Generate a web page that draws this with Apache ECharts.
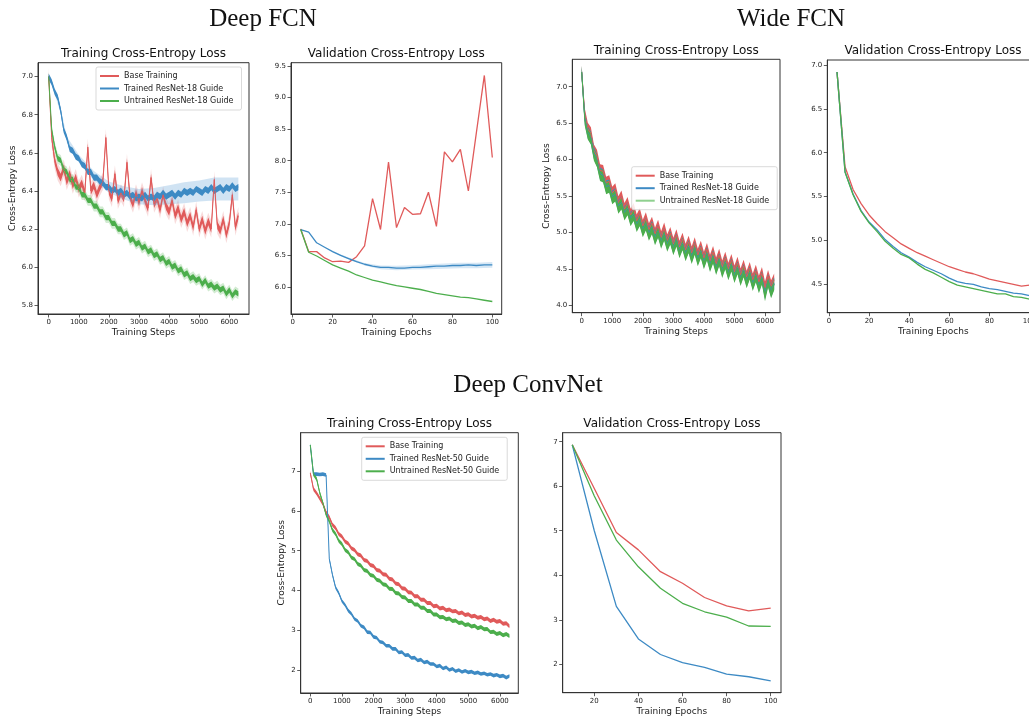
<!DOCTYPE html>
<html>
<head>
<meta charset="utf-8">
<script src="https://cdn.jsdelivr.net/npm/echarts@6/dist/echarts.min.js"></script>
<style>
html, body { margin: 0; padding: 0; background: #fff; overflow: hidden; }
#main { width: 1060px; height: 717px; }
</style>
</head>
<body>
<div id="main"></div>
<script>
// x values
var trainSteps = [0, 100, 200, 300, 400, 500, 600, 700, 800, 900, 1000, 1100, 1200, 1300, 1400, 1500,
    1600, 1700, 1800, 1900, 2000, 2100, 2200, 2300, 2400, 2500, 2600, 2700, 2800, 2900, 3000, 3100,
    3200, 3300, 3400, 3500, 3600, 3700, 3800, 3900, 4000, 4100, 4200, 4300, 4400, 4500, 4600, 4700,
    4800, 4900, 5000, 5100, 5200, 5300, 5400, 5500, 5600, 5700, 5800, 5900, 6000, 6100, 6200, 6300];
var valEpochs = [4, 8, 12, 16, 20, 24, 28, 32, 36, 40, 44, 48, 52, 56, 60, 64, 68, 72, 76, 80, 84, 88, 92, 96, 100];
var convEpochs = [10, 20, 30, 40, 50, 60, 70, 80, 90, 100];

// tick labels
var stepTicks = [0, 1000, 2000, 3000, 4000, 5000, 6000];
var epochTicks = [0, 20, 40, 60, 80, 100];
var convEpochTicks = [20, 40, 60, 80, 100];
var deepTrainTicks = [5.8, 6.0, 6.2, 6.4, 6.6, 6.8, 7.0];
var deepValTicks = [6.0, 6.5, 7.0, 7.5, 8.0, 8.5, 9.0, 9.5];
var wideTrainTicks = [4.0, 4.5, 5.0, 5.5, 6.0, 6.5, 7.0];
var wideValTicks = [4.5, 5.0, 5.5, 6.0, 6.5, 7.0];
var convTicks = [2, 3, 4, 5, 6, 7];

var legendNames18 = ['Base Training', 'Trained ResNet-18 Guide', 'Untrained ResNet-18 Guide'];
var legendNames50 = ['Base Training', 'Trained ResNet-50 Guide', 'Untrained ResNet-50 Guide'];

// Deep FCN - training
var deepTrainBase = [
    7.00, 6.68, 6.56, 6.50, 6.47, 6.52, 6.45, 6.49,
    6.43, 6.47, 6.41, 6.44, 6.39, 6.63, 6.40, 6.43,
    6.38, 6.42, 6.45, 6.68, 6.40, 6.36, 6.49, 6.35,
    6.39, 6.36, 6.55, 6.37, 6.33, 6.39, 6.34, 6.40,
    6.35, 6.31, 6.47, 6.33, 6.36, 6.30, 6.38, 6.32,
    6.29, 6.35, 6.27, 6.31, 6.25, 6.29, 6.23, 6.27,
    6.21, 6.30, 6.20, 6.25, 6.19, 6.24, 6.20, 6.46,
    6.22, 6.19, 6.25, 6.17, 6.23, 6.38, 6.21, 6.27];
var deepTrainTrained = [
    7.00, 6.97, 6.92, 6.89, 6.82, 6.72, 6.68, 6.62,
    6.61, 6.58, 6.57, 6.54, 6.53, 6.50, 6.50, 6.47,
    6.47, 6.45, 6.44, 6.42, 6.42, 6.40, 6.41, 6.39,
    6.40, 6.38, 6.39, 6.37, 6.38, 6.36, 6.37, 6.36,
    6.38, 6.36, 6.37, 6.36, 6.38, 6.37, 6.39, 6.37,
    6.38, 6.39, 6.37, 6.39, 6.38, 6.40, 6.39, 6.40,
    6.39, 6.41, 6.40, 6.39, 6.41, 6.40, 6.42, 6.40,
    6.41, 6.42, 6.40, 6.42, 6.41, 6.43, 6.41, 6.42];
var deepTrainUntrained = [
    7.00, 6.72, 6.63, 6.57, 6.56, 6.51, 6.50, 6.46,
    6.46, 6.42, 6.42, 6.38, 6.38, 6.35, 6.35, 6.32,
    6.32, 6.29, 6.29, 6.26, 6.26, 6.23, 6.23, 6.20,
    6.20, 6.17, 6.18, 6.14, 6.15, 6.12, 6.13, 6.10,
    6.11, 6.08, 6.09, 6.06, 6.07, 6.04, 6.05, 6.02,
    6.03, 6.00, 6.01, 5.98, 5.99, 5.96, 5.97, 5.94,
    5.95, 5.93, 5.94, 5.91, 5.93, 5.90, 5.91, 5.89,
    5.90, 5.88, 5.89, 5.86, 5.88, 5.85, 5.87, 5.86];
// shaded spread of the trained-guide run
var deepTrainBandSteps = [0, 200, 400, 600, 1000, 1500, 2000, 2500, 3000, 3500, 4000, 4500, 5000, 5500, 6000, 6300];
var deepTrainBandHi = [7.005, 6.93, 6.835, 6.685, 6.59, 6.505, 6.45, 6.425, 6.41, 6.415, 6.43, 6.445, 6.455, 6.47, 6.47, 6.47];
var deepTrainBandLo = [6.995, 6.91, 6.805, 6.655, 6.55, 6.455, 6.39, 6.355, 6.33, 6.325, 6.33, 6.335, 6.345, 6.35, 6.35, 6.35];

// Deep FCN - validation
var deepValBase = [6.92, 6.56, 6.56, 6.46, 6.40, 6.41, 6.39, 6.48, 6.65, 7.40, 6.91, 7.98, 6.94,
    7.26, 7.15, 7.16, 7.50, 6.96, 8.14, 7.98, 8.18, 7.52, 8.44, 9.35, 8.05];
var deepValTrained = [6.91, 6.87, 6.70, 6.63, 6.56, 6.50, 6.45, 6.40, 6.36, 6.33, 6.31, 6.31, 6.30,
    6.30, 6.31, 6.31, 6.32, 6.33, 6.33, 6.34, 6.34, 6.35, 6.34, 6.35, 6.35];
var deepValUntrained = [6.91, 6.55, 6.49, 6.42, 6.35, 6.30, 6.25, 6.19, 6.15, 6.11, 6.08, 6.05, 6.02,
    6.00, 5.98, 5.96, 5.93, 5.90, 5.88, 5.86, 5.84, 5.83, 5.81, 5.79, 5.77];
var deepValBandEpochs = [20, 28, 36, 44, 52, 60, 68, 76, 84, 92, 100];
var deepValBandHi = [6.57, 6.465, 6.38, 6.34, 6.335, 6.345, 6.36, 6.37, 6.385, 6.385, 6.395];
var deepValBandLo = [6.55, 6.435, 6.34, 6.28, 6.265, 6.275, 6.28, 6.29, 6.295, 6.295, 6.305];

// Wide FCN - training
var wideTrainBase = [
    7.20, 6.62, 6.42, 6.36, 6.12, 6.05, 5.85, 5.84,
    5.68, 5.70, 5.54, 5.59, 5.41, 5.49, 5.32, 5.40,
    5.24, 5.32, 5.16, 5.25, 5.09, 5.19, 5.04, 5.13,
    4.98, 5.09, 4.93, 5.05, 4.89, 4.99, 4.84, 4.96,
    4.80, 4.91, 4.76, 4.87, 4.72, 4.85, 4.69, 4.80,
    4.65, 4.77, 4.61, 4.73, 4.57, 4.69, 4.53, 4.65,
    4.50, 4.62, 4.46, 4.58, 4.42, 4.54, 4.39, 4.51,
    4.35, 4.47, 4.32, 4.44, 4.24, 4.40, 4.26, 4.35];
var wideTrainTrained = [
    7.20, 6.57, 6.37, 6.30, 6.09, 5.99, 5.81, 5.78,
    5.63, 5.64, 5.49, 5.52, 5.36, 5.41, 5.27, 5.33,
    5.19, 5.25, 5.11, 5.18, 5.04, 5.12, 4.99, 5.07,
    4.93, 5.02, 4.88, 4.98, 4.84, 4.93, 4.79, 4.90,
    4.75, 4.85, 4.71, 4.81, 4.67, 4.79, 4.64, 4.74,
    4.60, 4.71, 4.56, 4.67, 4.52, 4.63, 4.48, 4.59,
    4.45, 4.56, 4.41, 4.52, 4.37, 4.48, 4.34, 4.45,
    4.30, 4.41, 4.27, 4.38, 4.17, 4.34, 4.20, 4.30];
var wideTrainUntrained = [
    7.20, 6.55, 6.36, 6.29, 6.07, 5.98, 5.79, 5.77,
    5.61, 5.63, 5.47, 5.51, 5.34, 5.40, 5.25, 5.32,
    5.17, 5.24, 5.09, 5.17, 5.02, 5.11, 4.97, 5.06,
    4.91, 5.01, 4.86, 4.97, 4.82, 4.92, 4.77, 4.89,
    4.73, 4.84, 4.69, 4.80, 4.65, 4.78, 4.62, 4.73,
    4.58, 4.70, 4.54, 4.66, 4.50, 4.62, 4.46, 4.58,
    4.43, 4.55, 4.39, 4.51, 4.35, 4.47, 4.32, 4.44,
    4.28, 4.40, 4.25, 4.37, 4.14, 4.33, 4.18, 4.29];

// Wide FCN - validation
var wideValBase = [6.92, 5.84, 5.58, 5.42, 5.29, 5.19, 5.10, 5.03, 4.96, 4.91, 4.86, 4.82, 4.78,
    4.74, 4.70, 4.67, 4.64, 4.62, 4.59, 4.56, 4.54, 4.52, 4.50, 4.48, 4.49];
var wideValTrained = [6.92, 5.78, 5.53, 5.34, 5.21, 5.12, 5.01, 4.93, 4.86, 4.81, 4.75, 4.70, 4.66,
    4.62, 4.57, 4.53, 4.51, 4.50, 4.47, 4.45, 4.44, 4.42, 4.40, 4.39, 4.37];
var wideValUntrained = [6.92, 5.78, 5.52, 5.33, 5.20, 5.10, 4.99, 4.91, 4.84, 4.80, 4.73, 4.67, 4.63,
    4.58, 4.53, 4.49, 4.47, 4.45, 4.43, 4.41, 4.39, 4.39, 4.36, 4.35, 4.33];

// Deep ConvNet - training
var convTrainBase = [
    6.95, 6.55, 6.44, 6.31, 6.17, 5.96, 5.84, 5.65,
    5.57, 5.42, 5.36, 5.23, 5.18, 5.06, 5.02, 4.91,
    4.88, 4.77, 4.74, 4.64, 4.62, 4.52, 4.50, 4.41,
    4.40, 4.30, 4.28, 4.18, 4.16, 4.06, 4.05, 3.96,
    3.95, 3.86, 3.86, 3.77, 3.77, 3.69, 3.69, 3.61,
    3.62, 3.55, 3.57, 3.51, 3.53, 3.48, 3.49, 3.43,
    3.45, 3.39, 3.41, 3.35, 3.37, 3.32, 3.34, 3.28,
    3.30, 3.24, 3.27, 3.22, 3.24, 3.17, 3.18, 3.11];
var convTrainTrained = [
    7.65, 6.92, 6.92, 6.91, 6.92, 6.90, 4.80, 4.40,
    4.08, 3.94, 3.74, 3.64, 3.50, 3.42, 3.29, 3.24,
    3.12, 3.08, 2.96, 2.95, 2.84, 2.82, 2.72, 2.70,
    2.62, 2.62, 2.54, 2.54, 2.45, 2.46, 2.38, 2.39,
    2.31, 2.32, 2.25, 2.27, 2.20, 2.22, 2.16, 2.16,
    2.10, 2.12, 2.05, 2.08, 2.01, 2.04, 1.98, 2.01,
    1.96, 1.99, 1.95, 1.97, 1.93, 1.95, 1.91, 1.93,
    1.89, 1.91, 1.87, 1.89, 1.85, 1.87, 1.82, 1.86];
var convTrainUntrained = [
    7.65, 6.92, 6.80, 6.45, 6.19, 5.90, 5.74, 5.52,
    5.42, 5.25, 5.17, 5.02, 4.96, 4.83, 4.79, 4.67,
    4.63, 4.52, 4.49, 4.39, 4.37, 4.27, 4.25, 4.16,
    4.14, 4.05, 4.04, 3.94, 3.93, 3.84, 3.83, 3.74,
    3.74, 3.65, 3.65, 3.57, 3.57, 3.49, 3.49, 3.40,
    3.40, 3.33, 3.34, 3.28, 3.30, 3.24, 3.25, 3.19,
    3.20, 3.14, 3.16, 3.10, 3.12, 3.06, 3.09, 3.03,
    3.04, 2.96, 2.97, 2.91, 2.94, 2.88, 2.91, 2.86];

// Deep ConvNet - validation
var convValBase = [6.93, 5.95, 4.96, 4.57, 4.08, 3.82, 3.50, 3.31, 3.20, 3.26];
var convValTrained = [6.93, 5.00, 3.30, 2.57, 2.22, 2.04, 1.93, 1.78, 1.72, 1.63];
var convValUntrained = [6.93, 5.78, 4.79, 4.19, 3.71, 3.37, 3.18, 3.06, 2.86, 2.85];

var RED = '#e05a5a', BLUE = '#3d8ac4', GREEN = '#4cae4c';
var FONT = 'DejaVu Sans';

function pairs(xs, ys) {
    return xs.map(function(x, i) { return [x, ys[i]]; });
}

// [left, top, width, height]
var boxes = [
    [38, 62.7, 211, 251.3],
    [291, 62.7, 210.7, 251.3],
    [572.3, 59.3, 207.7, 253.4],
    [827.3, 60, 212, 252.7],
    [300.7, 432.7, 217.6, 260.6],
    [562.7, 432.7, 218.3, 260]
];

var grids = boxes.map(function(b) {
    return {
        left: b[0], top: b[1], width: b[2], height: b[3],
        show: true, borderColor: '#333', borderWidth: 1, backgroundColor: 'transparent'
    };
});

function axisCommon(ticks, digits) {
    return {
        axisLine: { show: true, onZero: false, lineStyle: { color: '#333', width: 1 } },
        axisTick: { show: true, inside: false, length: 3.5, customValues: ticks, lineStyle: { color: '#333', width: 0.8 } },
        axisLabel: {
            customValues: ticks, fontSize: 7, color: '#222', margin: 5, fontFamily: FONT,
            formatter: function(v) { return digits ? Number(v).toFixed(digits) : String(Math.round(v)); }
        },
        splitLine: { show: false }
    };
}

function xAx(i, min, max, ticks, name) {
    var a = axisCommon(ticks, 0);
    a.type = 'value'; a.gridIndex = i; a.min = min; a.max = max; a.position = 'bottom';
    a.name = name; a.nameLocation = 'middle'; a.nameGap = 14;
    a.nameTextStyle = { fontSize: 9, color: '#222', fontFamily: FONT };
    return a;
}

function yAx(i, min, max, ticks, digits, name, gap) {
    var a = axisCommon(ticks, digits);
    a.type = 'value'; a.gridIndex = i; a.min = min; a.max = max; a.position = 'left';
    if (name) {
        a.name = name; a.nameLocation = 'middle'; a.nameGap = gap; a.nameRotate = 90;
        a.nameTextStyle = { fontSize: 9, color: '#222', fontFamily: FONT };
    }
    return a;
}

function line(name, idx, xs, ys, color, width) {
    return {
        name: name, type: 'line', xAxisIndex: idx, yAxisIndex: idx,
        data: pairs(xs, ys), showSymbol: false, symbol: 'none',
        lineStyle: { color: color, width: width }, itemStyle: { color: color },
        animation: false
    };
}

function polygonSeries(idx, xs, hiFn, loFn, fill) {
    return {
        type: 'custom', xAxisIndex: idx, yAxisIndex: idx, silent: true, animation: false,
        data: [[xs[0], hiFn(0)]],
        renderItem: function(params, api) {
            var pts = [];
            for (var i = 0; i < xs.length; i++) pts.push(api.coord([xs[i], hiFn(i)]));
            for (var j = xs.length - 1; j >= 0; j--) pts.push(api.coord([xs[j], loFn(j)]));
            return { type: 'polygon', shape: { points: pts }, style: { fill: fill } };
        }
    };
}

// spread band given by its own upper and lower arrays
function band(idx, xs, hi, lo, fill) {
    return polygonSeries(idx, xs, function(i) { return hi[i]; }, function(i) { return lo[i]; }, fill);
}

// thickness of a noisy training trace, h in loss units
function noise(idx, xs, ys, h, fill) {
    return polygonSeries(idx, xs, function(i) { return ys[i] + h; }, function(i) { return ys[i] - h; }, fill);
}

function legendAt(left, top, names, greenColor) {
    return {
        left: left, top: top, orient: 'vertical', icon: 'rect', selectedMode: false,
        itemWidth: 19, itemHeight: 2, itemGap: 2.5, padding: [4, 8, 4, 4],
        borderColor: '#cfcfcf', borderWidth: 0.8, borderRadius: 2,
        backgroundColor: 'rgba(255,255,255,0.85)',
        textStyle: { fontSize: 8, color: '#222', fontFamily: FONT, lineHeight: 10 },
        data: [
            { name: names[0], itemStyle: { color: RED } },
            { name: names[1], itemStyle: { color: BLUE } },
            { name: names[2], itemStyle: { color: greenColor } }
        ]
    };
}

function label(text, x, y, size, family) {
    return {
        type: 'text', x: x, y: y, silent: true,
        style: {
            text: text, font: size + 'px "' + family + '"', fill: '#111',
            textAlign: 'center', textVerticalAlign: 'middle', align: 'center', verticalAlign: 'middle'
        }
    };
}

var myChart = echarts.init(document.getElementById('main'));

var option = {
    backgroundColor: '#fff',
    animation: false,
    grid: grids,
    xAxis: [
        xAx(0, -355, 6654, stepTicks, 'Training Steps'),
        xAx(1, -0.85, 104.7, epochTicks, 'Training Epochs'),
        xAx(2, -308, 6491, stepTicks, 'Training Steps'),
        xAx(3, -0.85, 104.9, epochTicks, 'Training Epochs'),
        xAx(4, -304, 6582, stepTicks, 'Training Steps'),
        xAx(5, 5.67, 104.67, convEpochTicks, 'Training Epochs')
    ],
    yAxis: [
        yAx(0, 5.754, 7.073, deepTrainTicks, 1, 'Cross-Entropy Loss', 20.5),
        yAx(1, 5.572, 9.552, deepValTicks, 1),
        yAx(2, 3.898, 7.376, wideTrainTicks, 1, 'Cross-Entropy Loss', 20.8),
        yAx(3, 4.176, 7.057, wideValTicks, 1),
        yAx(4, 1.434, 7.959, convTicks, 0, 'Cross-Entropy Loss', 14.5),
        yAx(5, 1.362, 7.202, convTicks, 0)
    ],
    legend: [
        legendAt(96, 67, legendNames18, GREEN),
        legendAt(631.7, 166.7, legendNames18, '#8fd08f'),
        legendAt(361.7, 437.3, legendNames50, GREEN)
    ],
    graphic: [
        label('Deep FCN', 263, 19, 25, 'Liberation Serif'),
        label('Wide FCN', 791, 19, 25, 'Liberation Serif'),
        label('Deep ConvNet', 528, 385, 25, 'Liberation Serif'),
        label('Training Cross-Entropy Loss', 143.5, 54, 12, FONT),
        label('Validation Cross-Entropy Loss', 396.3, 54, 12, FONT),
        label('Training Cross-Entropy Loss', 676.2, 51, 12, FONT),
        label('Validation Cross-Entropy Loss', 933, 51, 12, FONT),
        label('Training Cross-Entropy Loss', 409.5, 424, 12, FONT),
        label('Validation Cross-Entropy Loss', 671.9, 424, 12, FONT)
    ],
    series: [
        // Deep FCN training
        noise(0, trainSteps, deepTrainBase, 0.045, 'rgba(224,90,90,0.22)'),
        noise(0, trainSteps, deepTrainBase, 0.02, RED),
        line(legendNames18[0], 0, trainSteps, deepTrainBase, RED, 1),
        band(0, deepTrainBandSteps, deepTrainBandHi, deepTrainBandLo, 'rgba(120,175,222,0.35)'),
        noise(0, trainSteps, deepTrainTrained, 0.016, BLUE),
        line(legendNames18[1], 0, trainSteps, deepTrainTrained, BLUE, 1),
        noise(0, trainSteps, deepTrainUntrained, 0.028, 'rgba(76,174,76,0.25)'),
        noise(0, trainSteps, deepTrainUntrained, 0.014, GREEN),
        line(legendNames18[2], 0, trainSteps, deepTrainUntrained, GREEN, 1),

        // Deep FCN validation
        band(1, deepValBandEpochs, deepValBandHi, deepValBandLo, 'rgba(120,175,222,0.3)'),
        line(legendNames18[0], 1, valEpochs, deepValBase, RED, 1.3),
        line(legendNames18[1], 1, valEpochs, deepValTrained, BLUE, 1.3),
        line(legendNames18[2], 1, valEpochs, deepValUntrained, GREEN, 1.3),

        // Wide FCN training
        noise(2, trainSteps, wideTrainBase, 0.085, RED),
        line(legendNames18[0], 2, trainSteps, wideTrainBase, RED, 1),
        noise(2, trainSteps, wideTrainTrained, 0.085, BLUE),
        line(legendNames18[1], 2, trainSteps, wideTrainTrained, BLUE, 1),
        noise(2, trainSteps, wideTrainUntrained, 0.085, GREEN),
        line(legendNames18[2], 2, trainSteps, wideTrainUntrained, GREEN, 1),

        // Wide FCN validation
        line(legendNames18[0], 3, valEpochs, wideValBase, RED, 1.3),
        line(legendNames18[1], 3, valEpochs, wideValTrained, BLUE, 1.3),
        line(legendNames18[2], 3, valEpochs, wideValUntrained, GREEN, 1.3),

        // Deep ConvNet training
        noise(4, trainSteps, convTrainBase, 0.05, RED),
        line(legendNames50[0], 4, trainSteps, convTrainBase, RED, 1),
        noise(4, trainSteps, convTrainTrained, 0.045, BLUE),
        line(legendNames50[1], 4, trainSteps, convTrainTrained, BLUE, 1),
        noise(4, trainSteps, convTrainUntrained, 0.05, GREEN),
        line(legendNames50[2], 4, trainSteps, convTrainUntrained, GREEN, 1),

        // Deep ConvNet validation
        line(legendNames50[0], 5, convEpochs, convValBase, RED, 1.3),
        line(legendNames50[1], 5, convEpochs, convValTrained, BLUE, 1.3),
        line(legendNames50[2], 5, convEpochs, convValUntrained, GREEN, 1.3)
    ]
};

myChart.setOption(option);
</script>
</body>
</html>
